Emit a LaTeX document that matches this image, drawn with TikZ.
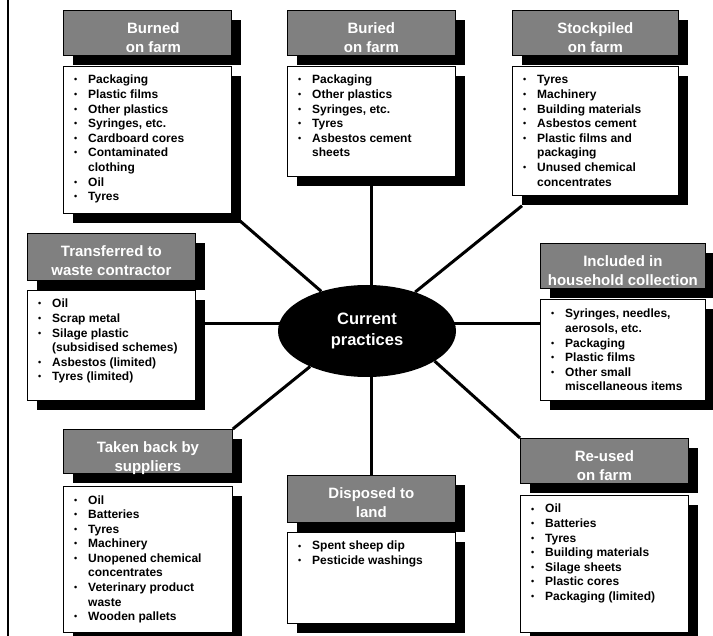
\documentclass[tikz,border=0pt]{standalone}
\usepackage{fontspec}
\setmainfont{Liberation Sans}
\usetikzlibrary{shapes.geometric,shadows,backgrounds}
\definecolor{hdrgray}{RGB}{128,128,128}
\newcommand\bl{\makebox[14pt][l]{\raisebox{1pt}{\fontsize{9}{9}\selectfont\textbullet}}}
\newcommand\ct{\hspace*{14pt}}
\tikzset{
  shad/.style={drop shadow={shadow xshift=10pt,shadow yshift=-10pt,opacity=1,fill=black}},
  hdr/.style={shad, draw=black, line width=0.8pt, fill=hdrgray, anchor=north west, inner sep=0pt, minimum width=168pt, minimum height=45pt},
  bodybox/.style={shad, draw=black, line width=0.8pt, fill=white, anchor=north west, inner sep=0pt, minimum width=168pt},
  htext/.style={anchor=base, text=white, font=\fontsize{15}{19}\selectfont\bfseries, inner sep=0pt, yshift=-23.5pt},
  items/.style={anchor=base west, font=\fontsize{12}{14.6}\selectfont\bfseries, inner sep=0pt, xshift=11pt, yshift=-18pt},
  link/.style={line width=3pt},
  hub/.style={ellipse, fill=black, inner sep=0pt, minimum width=178pt, minimum height=92pt, text=white, align=center, font=\fontsize{16.5}{21}\selectfont\bfseries}
}
\begin{document}
\begin{tikzpicture}[x=1pt,y=-1pt]
\useasboundingbox (0,0) rectangle (713,636);
\draw[line width=1.5pt] (8,0) -- (8,636);

% hub
\node[hub] (cp) at (367,331) {Current\\practices};

% Burned on farm
\node[hdr] (burnH) at (63,10) {};
\node[htext, xshift=6pt] (burnHt) at (burnH.north) {\parbox[t]{168pt}{\centering Burned\\on farm}};
\node[bodybox, minimum height=147pt] (burnB) at (63,66) {};
\node[items] (burnT) at (burnB.north west) {\parbox[t]{150pt}{\raggedright
\bl Packaging\\ \bl Plastic films\\ \bl Other plastics\\ \bl Syringes, etc.\\ \bl Cardboard cores\\ \bl Contaminated\\ \ct clothing\\ \bl Oil\\ \bl Tyres}};

% Buried on farm
\node[hdr] (buryH) at (287,10) {};
\node[htext] (buryHt) at (buryH.north) {\parbox[t]{168pt}{\centering Buried\\on farm}};
\node[bodybox, minimum height=110pt] (buryB) at (287,66) {};
\node[items] (buryT) at (buryB.north west) {\parbox[t]{150pt}{\raggedright
\bl Packaging\\ \bl Other plastics\\ \bl Syringes, etc.\\ \bl Tyres\\ \bl Asbestos cement\\ \ct sheets}};

% Stockpiled on farm
\node[hdr, minimum width=166pt] (stockH) at (512,10) {};
\node[htext] (stockHt) at (stockH.north) {\parbox[t]{166pt}{\centering Stockpiled\\on farm}};
\node[bodybox, minimum width=166pt, minimum height=129pt] (stockB) at (512,66) {};
\node[items] (stockT) at (stockB.north west) {\parbox[t]{150pt}{\raggedright
\bl Tyres\\ \bl Machinery\\ \bl Building materials\\ \bl Asbestos cement\\ \bl Plastic films and\\ \ct packaging\\ \bl Unused chemical\\ \ct concentrates}};

% Transferred to waste contractor
\node[hdr, minimum height=47pt] (transH) at (27,233) {};
\node[htext] (transHt) at (transH.north) {\parbox[t]{168pt}{\centering Transferred to\\waste contractor}};
\node[bodybox, minimum height=110pt] (transB) at (27,290) {};
\node[items] (transT) at (transB.north west) {\parbox[t]{155pt}{\raggedright
\bl Oil\\ \bl Scrap metal\\ \bl Silage plastic\\ \ct (subsidised schemes)\\ \bl Asbestos (limited)\\ \bl Tyres (limited)}};

% Included in household collection
\node[hdr, minimum width=165pt] (inclH) at (540,243) {};
\node[htext] (inclHt) at (inclH.north) {\parbox[t]{165pt}{\centering Included in\\household collection}};
\node[bodybox, minimum width=165pt, minimum height=101pt] (inclB) at (540,299) {};
\node[items, yshift=-1pt] (inclT) at (inclB.north west) {\parbox[t]{150pt}{\raggedright
\bl Syringes, needles,\\ \ct aerosols, etc.\\ \bl Packaging\\ \bl Plastic films\\ \bl Other small\\ \ct miscellaneous items}};

% Taken back by suppliers
\node[hdr, minimum width=169pt, minimum height=44pt] (takeH) at (63,429) {};
\node[htext] (takeHt) at (takeH.north) {\parbox[t]{169pt}{\centering Taken back by\\suppliers}};
\node[bodybox, minimum width=169pt, minimum height=146pt] (takeB) at (63,486) {};
\node[items] (takeT) at (takeB.north west) {\parbox[t]{150pt}{\raggedright
\bl Oil\\ \bl Batteries\\ \bl Tyres\\ \bl Machinery\\ \bl Unopened chemical\\ \ct concentrates\\ \bl Veterinary product\\ \ct waste\\ \bl Wooden pallets}};

% Disposed to land
\node[hdr, minimum height=47pt] (dispH) at (287,475) {};
\node[htext] (dispHt) at (dispH.north) {\parbox[t]{168pt}{\centering Disposed to\\land}};
\node[bodybox, minimum height=91pt] (dispB) at (287,532) {};
\node[items] (dispT) at (dispB.north west) {\parbox[t]{150pt}{\raggedright
\bl Spent sheep dip\\ \bl Pesticide washings}};

% Re-used on farm
\node[hdr] (reuseH) at (520,438) {};
\node[htext] (reuseHt) at (reuseH.north) {\parbox[t]{168pt}{\centering Re-used\\on farm}};
\node[bodybox, minimum height=137pt] (reuseB) at (520,495) {};
\node[items] (reuseT) at (reuseB.north west) {\parbox[t]{150pt}{\raggedright
\bl Oil\\ \bl Batteries\\ \bl Tyres\\ \bl Building materials\\ \bl Silage sheets\\ \bl Plastic cores\\ \bl Packaging (limited)}};

% connectors
\begin{pgfonlayer}{background}
\coordinate (hl) at (0,324);
\draw[link] (burnB.south east) -- (cp);
\draw[link] (buryB.south) -- (buryB.south |- cp.center);
\draw[link] ([xshift=10pt,yshift=-10pt]stockB.south west) -- (cp);
\draw[link] (transB.east |- hl) -- (cp.center |- hl);
\draw[link] (inclB.west |- hl) -- (cp.center |- hl);
\draw[link] (takeH.north east) -- (cp.212);
\draw[link] (dispH.north) -- (dispH.north |- cp.center);
\draw[link] (reuseH.north west) -- (cp.-24);
\end{pgfonlayer}
\end{tikzpicture}
\end{document}
